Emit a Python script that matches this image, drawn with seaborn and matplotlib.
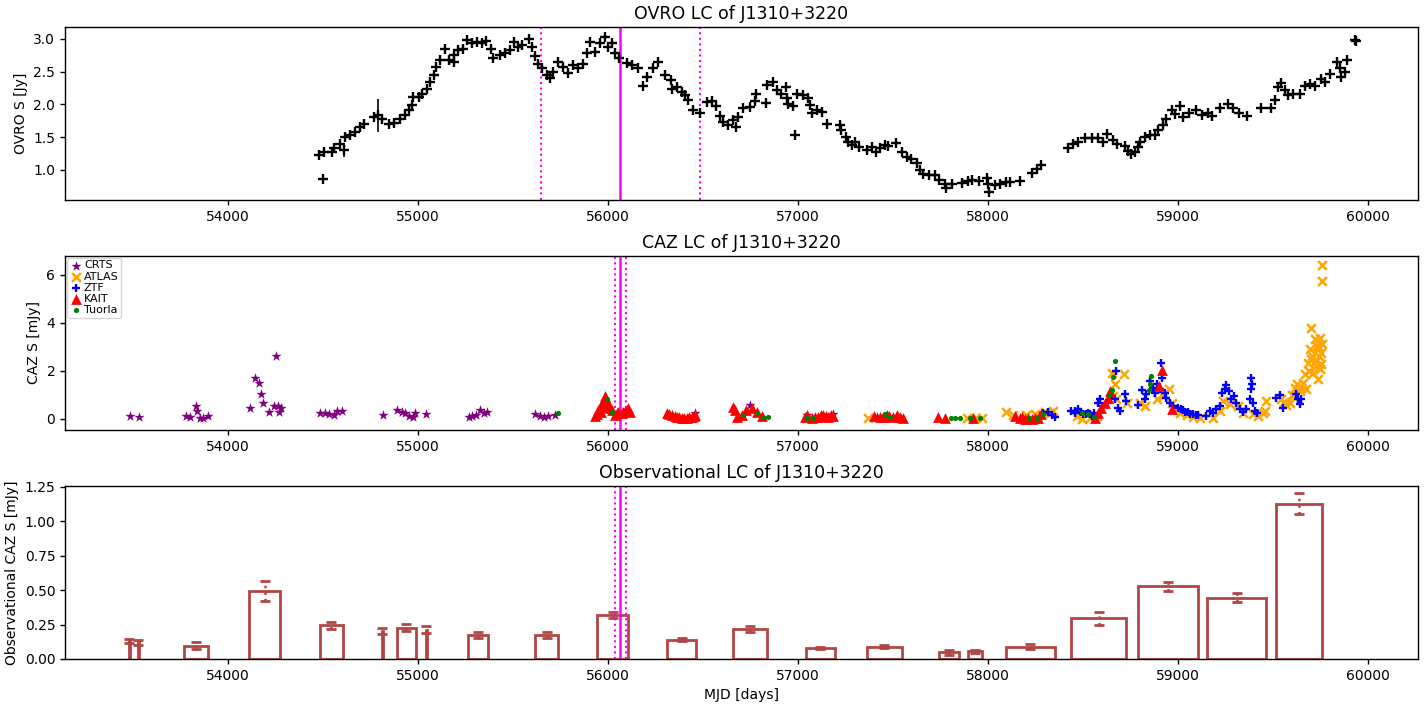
import matplotlib
matplotlib.use("Agg")
import matplotlib.pyplot as plt
import seaborn as sns
import numpy as np
import pandas as pd

# ---------------- OVRO light curve ----------------
ovro_mjd = [54475, 54498, 54502, 54546, 54554, 54586, 54607, 54616, 54642, 54668, 54695, 54712,
            54765, 54786, 54809, 54844, 54870, 54905, 54932, 54949, 54967, 54975, 55002, 55019,
            55046, 55063, 55081, 55095, 55116, 55139, 55160, 55186, 55191, 55212, 55235, 55256,
            55282, 55309, 55335, 55358, 55382, 55396, 55432, 55458, 55484, 55502, 55528, 55546,
            55581, 55598, 55616, 55633, 55651, 55677, 55695, 55712, 55738, 55765, 55791, 55817,
            55844, 55870, 55888, 55905, 55932, 55958, 55984, 56002, 56019, 56037, 56059, 56098,
            56125, 56160, 56182, 56203, 56238, 56265,
            56300, 56330, 56335, 56362, 56388, 56405, 56423, 56446, 56484, 56519, 56546, 56568,
            56589, 56607, 56633, 56656, 56674, 56686, 56712, 56747, 56774, 56779, 56832, 56839,
            56870, 56888, 56911, 56937, 56941, 56949, 56975, 56984, 56993, 57028, 57054, 57063,
            57072, 57098, 57125, 57151, 57221, 57226, 57253, 57265, 57282, 57300, 57323, 57361,
            57388, 57411, 57432, 57458, 57475, 57516, 57546, 57572, 57593, 57625, 57642, 57660,
            57691, 57721, 57744, 57774, 57777, 57809, 57862, 57896, 57914, 57954, 57996, 58002,
            58004, 58037, 58063, 58098,
            58116, 58168, 58230, 58256, 58282, 58423, 58449, 58475, 58511, 58546, 58581, 58607,
            58628, 58660, 58681, 58721, 58739, 58753, 58774, 58791, 58800, 58826, 58853, 58879,
            58896, 58923, 58940, 58967, 58984, 59011, 59025, 59060, 59098, 59125, 59160, 59182,
            59221, 59265, 59291, 59323, 59365, 59440, 59493, 59511, 59528, 59546, 59563, 59581,
            59607, 59642, 59668, 59695, 59721, 59756, 59774, 59804, 59838, 59853, 59861, 59879,
            59891, 59932, 59940]
ovro_flux = [1.22, 0.86, 1.27, 1.27, 1.33, 1.40, 1.30, 1.50, 1.53, 1.58, 1.66, 1.70,
             1.81, 1.83, 1.78, 1.70, 1.72, 1.78, 1.83, 1.91, 1.99, 2.11, 2.11, 2.16,
             2.24, 2.34, 2.45, 2.57, 2.67, 2.84, 2.67, 2.75, 2.65, 2.83, 2.85, 2.98,
             2.93, 2.95, 2.94, 2.97, 2.85, 2.70, 2.75, 2.78, 2.83, 2.95, 2.88, 2.90,
             2.99, 2.88, 2.73, 2.62, 2.55, 2.45, 2.40, 2.50, 2.65, 2.57, 2.48, 2.60,
             2.55, 2.62, 2.78, 2.95, 2.80, 2.93, 3.03, 2.88, 2.93, 2.78, 2.70, 2.63,
             2.60, 2.55, 2.28, 2.42, 2.55, 2.65,
             2.45, 2.37, 2.24, 2.26, 2.19, 2.14, 2.07, 1.91, 1.87, 2.04, 2.05, 1.97,
             1.82, 1.73, 1.68, 1.76, 1.66, 1.81, 1.94, 1.96, 2.05, 2.16, 2.02, 2.29,
             2.34, 2.22, 2.16, 2.26, 2.09, 2.00, 1.97, 1.53, 2.16, 2.14, 2.09, 1.99,
             1.86, 1.91, 1.89, 1.70, 1.68, 1.61, 1.50, 1.43, 1.38, 1.43, 1.35, 1.30,
             1.35, 1.27, 1.34, 1.38, 1.36, 1.41, 1.27, 1.20, 1.16, 1.10, 1.00, 0.94,
             0.92, 0.92, 0.85, 0.79, 0.73, 0.79, 0.80, 0.83, 0.85, 0.83, 0.88, 0.79,
             0.66, 0.77, 0.79, 0.82,
             0.82, 0.83, 0.95, 1.02, 1.08, 1.34, 1.39, 1.43, 1.49, 1.48, 1.49, 1.43,
             1.55, 1.45, 1.39, 1.37, 1.29, 1.24, 1.27, 1.35, 1.43, 1.50, 1.53, 1.53,
             1.61, 1.68, 1.78, 1.91, 1.85, 1.97, 1.81, 1.86, 1.91, 1.83, 1.87, 1.82,
             1.95, 2.00, 1.95, 1.87, 1.82, 1.95, 1.95, 2.06, 2.27, 2.33, 2.22, 2.14,
             2.16, 2.16, 2.28, 2.31, 2.28, 2.38, 2.34, 2.47, 2.65, 2.55, 2.42, 2.50,
             2.67, 2.98, 2.97]
ovro_err_default = 0.02
ovro_err_large = {54607: 0.10, 54786: 0.25, 55191: 0.05, 59025: 0.05}

# ---------------- CAZ light curves ----------------
crts_mjd = [53481, 53528, 53777, 53800, 53830, 53835, 53853, 53865, 53891, 54112, 54142, 54160,
            54170, 54181, 54212, 54239, 54249, 54261, 54265, 54279, 54484, 54511, 54528, 54554,
            54572, 54598, 54812, 54888, 54914, 54932, 54953, 54970, 54984, 55042, 55265, 55282,
            55304, 55326, 55344, 55361, 55616, 55642, 55660, 55686, 55721, 56458, 56747, 57046,
            57186, 57414]
crts_flux = [0.125, 0.07, 0.125, 0.07, 0.54, 0.33, 0.03, 0.06, 0.125, 0.44, 1.72, 1.49,
             1.04, 0.68, 0.29, 0.54, 2.62, 0.54, 0.28, 0.44, 0.26, 0.26, 0.21, 0.17,
             0.35, 0.33, 0.17, 0.38, 0.31, 0.24, 0.125, 0.10, 0.26, 0.21, 0.07, 0.125,
             0.17, 0.38, 0.24, 0.31, 0.21, 0.125, 0.07, 0.125, 0.17, 0.25, 0.58, 0.17,
             0.21, 0.08]

atlas_mjd = [57370, 57888, 57940, 57967, 58098, 58133, 58200, 58250, 58300, 58326, 58344,
             58467, 58493, 58537, 58572, 58651, 58668, 58660, 58677, 58716, 58730,
             58800, 58826, 58888, 58923, 58954, 58967, 59011, 59046, 59081, 59116,
             59186, 59221, 59240, 59274, 59317, 59344, 59396, 59423, 59449, 59467, 59458,
             59546, 59560, 59572, 59589, 59600, 59607, 59616, 59628, 59642, 59650, 59660, 59668,
             59677, 59686, 59690, 59695, 59700, 59704, 59709, 59712, 59721, 59726, 59730, 59733,
             59738, 59740, 59743, 59745, 59747, 59751, 59755, 59756, 59759, 59759, 59760]
atlas_flux = [0.06, 0.06, 0.06, 0.06, 0.29, 0.15, 0.15, 0.20, 0.28, 0.26, 0.33,
              0.12, 0.0, 0.05, 0.12, 1.93, 1.44, 0.96, 0.82, 1.86, 0.68,
              0.68, 0.54, 0.82, 0.96, 1.23, 0.68, 0.26, 0.15, 0.10, 0.05,
              0.05, 0.33, 0.75, 0.61, 0.54, 0.26, 0.19, 0.12, 0.26, 0.75, 0.33,
              0.82, 0.70, 0.57, 0.68, 1.00, 0.96, 1.30, 1.44, 1.16, 1.30, 1.51, 1.86,
              1.23, 2.35, 2.00, 2.90, 2.50, 3.81, 2.63, 1.93, 3.32, 2.21, 2.40, 3.04,
              1.65, 2.90, 2.63, 3.00, 3.39, 2.07, 2.30, 2.76, 6.40, 5.75, 3.11]

ztf_mjd = [58291, 58317, 58335, 58353, 58440, 58458, 58460, 58475, 58490, 58502, 58515, 58528,
           58540, 58546, 58560, 58581, 58589, 58607, 58625, 58651, 58674, 58668, 58686, 58695,
           58721, 58726, 58791, 58809, 58826, 58835, 58853, 58867, 58879, 58888, 58905, 58914,
           58917, 58932, 58940, 58958, 58975, 59002, 59015, 59028, 59040, 59054, 59065, 59081,
           59095, 59107, 59151, 59168, 59186, 59203, 59221, 59235, 59247, 59256, 59270, 59282,
           59295, 59309, 59326, 59344, 59361, 59379, 59384, 59388, 59391, 59396, 59405, 59417,
           59519, 59537, 59554, 59625, 59633, 59642, 59651]
ztf_flux = [0.26, 0.29, 0.15, 0.08, 0.33, 0.26, 0.35, 0.40, 0.30, 0.19, 0.22, 0.26,
            0.20, 0.12, 0.25, 0.68, 0.85, 0.54, 0.68, 0.96, 2.00, 0.82, 0.47, 0.33,
            1.06, 0.75, 0.58, 1.21, 0.82, 1.06, 1.58, 1.30, 1.08, 1.44, 1.23, 2.35,
            1.72, 1.08, 0.89, 0.68, 0.54, 0.47, 0.40, 0.37, 0.30, 0.29, 0.22, 0.19,
            0.18, 0.15, 0.12, 0.33, 0.26, 0.40, 0.54, 1.08, 1.23, 1.40, 1.16, 0.82,
            0.96, 0.68, 0.40, 0.29, 0.40, 0.82, 1.23, 1.72, 1.44, 0.68, 0.33, 0.26,
            0.89, 0.99, 0.47, 1.03, 0.82, 0.61, 0.82]

kait_mjd = [55932, 55940, 55949, 55960, 55967, 55975, 55984, 55990, 56002, 56010, 56019, 56037,
            56045, 56054, 56072, 56080, 56089, 56100, 56107, 56116,
            56309, 56320, 56335, 56350, 56362, 56375, 56388, 56400, 56414, 56425, 56440, 56450, 56458,
            56656, 56668, 56677, 56704, 56726, 56756, 56782, 56809,
            57037, 57050, 57072, 57090, 57107, 57120, 57133, 57150, 57160, 57175, 57186,
            57400, 57432, 57450, 57467, 57480, 57502, 57520, 57537, 57554,
            57739, 57774, 57923,
            58142, 58168, 58180, 58195, 58210, 58230, 58250, 58265, 58282,
            58563, 58581, 58598, 58616, 58633, 58642, 58901, 58917, 58970]
kait_flux = [0.125, 0.20, 0.38, 0.30, 0.58, 0.75, 0.96, 0.50, 0.65, 0.45, 0.38, 0.17,
             0.25, 0.31, 0.24, 0.30, 0.35, 0.35, 0.44, 0.28,
             0.26, 0.20, 0.17, 0.12, 0.10, 0.08, 0.06, 0.05, 0.06, 0.08, 0.10, 0.12, 0.17,
             0.51, 0.38, 0.10, 0.17, 0.38, 0.44, 0.31, 0.125,
             0.10, 0.15, 0.06, 0.08, 0.10, 0.15, 0.17, 0.12, 0.10, 0.18, 0.125,
             0.12, 0.10, 0.08, 0.17, 0.12, 0.10, 0.15, 0.10, 0.06,
             0.10, 0.06, 0.06,
             0.125, 0.06, 0.10, 0.0, 0.05, 0.0, 0.03, 0.06, 0.19,
             0.06, 0.26, 0.47, 0.68, 0.89, 1.17, 1.37, 2.04, 0.40]

tuorla_mjd = [55738, 55993, 56019, 56709, 56786, 56818, 56844, 57046, 57081, 57458, 57484,
              57804, 57826, 57853, 57905, 57961, 58217, 58260, 58288, 58493, 58528, 58560,
              58639, 58651, 58660, 58668, 58847, 58856, 58861]
tuorla_flux = [0.24, 0.82, 0.31, 0.17, 0.24, 0.10, 0.08, 0.06, 0.06, 0.20, 0.08,
               0.06, 0.06, 0.06, 0.06, 0.06, 0.06, 0.03, 0.19, 0.24, 0.19, 0.10,
               0.99, 1.19, 1.75, 2.40, 1.19, 1.44, 1.79]

# ---------------- Observational blocks ----------------
block_start = [53476, 53522, 53768, 54111, 54484, 54807, 54888, 55039, 55261, 55614, 55940,
               56309, 56656, 57040, 57361, 57740, 57893, 58093, 58440, 58788, 59156, 59519]
block_end = [53482, 53528, 53891, 54274, 54602, 54812, 54987, 55045, 55365, 55738, 56107,
             56465, 56838, 57196, 57549, 57849, 57967, 58353, 58726, 59107, 59465, 59758]
block_flux = [0.130, 0.120, 0.097, 0.493, 0.245, 0.205, 0.228, 0.213, 0.176, 0.176, 0.320,
              0.140, 0.220, 0.082, 0.089, 0.048, 0.055, 0.090, 0.296, 0.526, 0.446, 1.127]
block_err = [0.014, 0.017, 0.025, 0.072, 0.024, 0.022, 0.024, 0.027, 0.023, 0.021, 0.024,
             0.010, 0.023, 0.008, 0.010, 0.017, 0.010, 0.020, 0.048, 0.034, 0.033, 0.077]

peak_mjd = 56063
ovro_window = [55647, 56484]
caz_window = [56037, 56095]

# ---------------- Figure ----------------
sns.set_style("ticks")
plt.rcParams['font.family'] = ['DejaVu Sans']
plt.rcParams['axes.linewidth'] = 1.0
plt.rcParams['text.color'] = 'black'
plt.rcParams['axes.labelcolor'] = 'black'
plt.rcParams['axes.edgecolor'] = 'black'
plt.rcParams['xtick.color'] = 'black'
plt.rcParams['ytick.color'] = 'black'
plt.rcParams['xtick.direction'] = 'out'
plt.rcParams['ytick.direction'] = 'out'

fig = plt.figure(figsize=(14.27, 7.07), dpi=100)
L, W = 65 / 1427, (1418 - 65) / 1427
ax1 = fig.add_axes([L, 1 - 200 / 707, W, 173 / 707])
ax2 = fig.add_axes([L, 1 - 430 / 707, W, 174 / 707])
ax3 = fig.add_axes([L, 1 - 659 / 707, W, 173 / 707])

xlim = (53140, 60265)
magenta = '#ff00ff'

# Top panel
ovro_err = [ovro_err_large.get(m, ovro_err_default) for m in ovro_mjd]
ax1.errorbar(ovro_mjd, ovro_flux, yerr=ovro_err, fmt='+', color='black', ecolor='black',
             ms=6.5, mew=1.7, elinewidth=1.2, zorder=3)
ax1.axvline(peak_mjd, color=magenta, lw=1.8)
for v in ovro_window:
    ax1.axvline(v, color=magenta, lw=1.5, ls=':')
ax1.set_xlim(*xlim)
ax1.set_ylim(0.54, 3.18)
ax1.set_title("OVRO LC of J1310+3220", fontsize=12.5, color='black')
ax1.set_ylabel("OVRO S [Jy]")

# Middle panel
sns.scatterplot(x=crts_mjd, y=crts_flux, marker='*', color='purple', s=60, linewidth=0,
                label='CRTS', ax=ax2, zorder=3)
sns.scatterplot(x=atlas_mjd, y=atlas_flux, marker='x', color='orange', s=40, linewidth=1.8,
                label='ATLAS', ax=ax2, zorder=3)
sns.scatterplot(x=ztf_mjd, y=ztf_flux, marker='+', color='blue', s=40, linewidth=1.7,
                label='ZTF', ax=ax2, zorder=4)
sns.scatterplot(x=kait_mjd, y=kait_flux, marker='^', color='red', s=60, linewidth=0,
                label='KAIT', ax=ax2, zorder=5)
sns.scatterplot(x=tuorla_mjd, y=tuorla_flux, marker='o', color='green', s=14, linewidth=0,
                label='Tuorla', ax=ax2, zorder=6)
ax2.axvline(peak_mjd, color=magenta, lw=1.8)
for v in caz_window:
    ax2.axvline(v, color=magenta, lw=1.5, ls=':')
ax2.set_xlim(*xlim)
ax2.set_ylim(-0.46, 6.79)
ax2.set_yticks([0, 2, 4, 6])
ax2.set_title("CAZ LC of J1310+3220", fontsize=12.5, color='black')
ax2.set_ylabel("CAZ S [mJy]")
leg = ax2.legend(loc='upper left', fontsize=8, borderpad=0.25, labelspacing=0.1,
                 handletextpad=0.1, handlelength=1.2, borderaxespad=0.15, framealpha=0.8)
for t in leg.get_texts():
    t.set_color('black')

# Bottom panel
bar_color = '#b34545'
widths = [e - s for s, e in zip(block_start, block_end)]
centers = [s + w / 2 for s, w in zip(block_start, widths)]
ax3.bar(block_start, block_flux, width=widths, align='edge', fill=False,
        edgecolor=bar_color, linewidth=2)
eb = ax3.errorbar(centers, block_flux, yerr=block_err, fmt='none', ecolor=bar_color,
                  capsize=3.5, elinewidth=1.8, capthick=2)
eb[2][0].set_linestyle(':')
ax3.axvline(peak_mjd, color=magenta, lw=1.8)
for v in caz_window:
    ax3.axvline(v, color=magenta, lw=1.5, ls=':')
ax3.set_xlim(*xlim)
ax3.set_ylim(0, 1.255)
ax3.set_yticks([0, 0.25, 0.5, 0.75, 1.0, 1.25])
ax3.set_title("Observational LC of J1310+3220", fontsize=12.5, color='black')
ax3.set_ylabel("Observational CAZ S [mJy]")
ax3.set_xlabel("MJD [days]")

for ax in (ax1, ax2, ax3):
    ax.set_xticks([54000, 55000, 56000, 57000, 58000, 59000, 60000])
    for s in ax.spines.values():
        s.set_visible(True)
        s.set_color('black')
    ax.tick_params(direction='out', length=3.5, width=1, colors='black')

fig.savefig("out.png", dpi=100)
